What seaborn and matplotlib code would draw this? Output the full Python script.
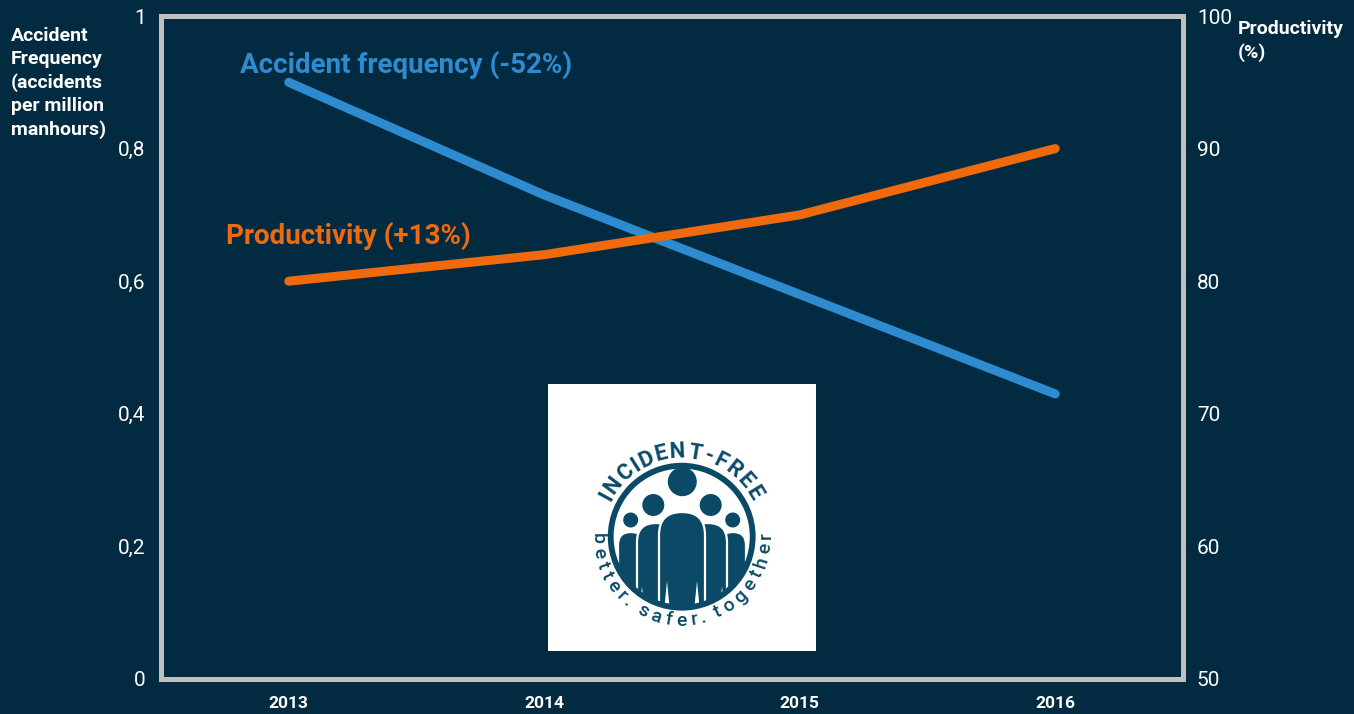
import numpy as np
import pandas as pd
import matplotlib
matplotlib.use("Agg")
import matplotlib.pyplot as plt
import seaborn as sns
from matplotlib.patches import Circle, FancyBboxPatch, Polygon
from matplotlib.textpath import TextPath
from matplotlib.font_manager import FontProperties

# ---------------- data ----------------
years = ["2013", "2014", "2015", "2016"]
accident_freq = [0.90, 0.73, 0.58, 0.43]
productivity = [80, 82, 85, 90]
left_ticks = [0, 0.2, 0.4, 0.6, 0.8, 1.0]
left_tick_labels = ["0", "0,2", "0,4", "0,6", "0,8", "1"]
right_ticks = [50, 60, 70, 80, 90, 100]
right_tick_labels = ["50", "60", "70", "80", "90", "100"]

BG = "#022b41"
BLUE = "#2e8bd0"
ORANGE = "#ee6a0c"
FRAME = "#c0c0c0"
LOGO = "#0b4a66"

sns.set_theme(style="white")
plt.rcParams["font.family"] = ["Roboto", "DejaVu Sans"]

df = pd.DataFrame({"pos": np.arange(len(years)), "year": years,
                   "acc": accident_freq, "prod": productivity})

fig = plt.figure(figsize=(13.54, 7.14), dpi=100, facecolor=BG)
ax = fig.add_axes([161/1354, 1-679/714, (1183-161)/1354, (679-16)/714])
ax.set_facecolor(BG)
ax2 = ax.twinx()

sns.lineplot(data=df, x="pos", y="acc", ax=ax, color=BLUE, lw=6.5,
             solid_capstyle="round", legend=False)
sns.lineplot(data=df, x="pos", y="prod", ax=ax2, color=ORANGE, lw=6.5,
             solid_capstyle="round", legend=False)

ax.set_xlim(-0.5, len(years) - 0.5)
ax.set_ylim(0, 1)
ax2.set_ylim(50, 100)

ax.set_xticks(df["pos"])
ax.set_xticklabels(years, fontsize=12.5, fontweight="bold", color="white")
ax.set_xticks(np.arange(-0.5, len(years), 1.0), minor=True)
ax.tick_params(axis="x", which="major", length=0, pad=12)
ax.tick_params(axis="x", which="minor", length=5, width=1.2, color=FRAME, direction="out")
ax.set_yticks(left_ticks)
ax.set_yticklabels(left_tick_labels, fontsize=15, color="white")
ax.tick_params(axis="y", length=0, pad=11)
ax2.set_yticks(right_ticks)
ax2.set_yticklabels(right_tick_labels, fontsize=15, color="white")
ax2.tick_params(axis="y", length=0, pad=10)
ax.set_xlabel("")
ax.set_ylabel("")
ax2.set_ylabel("")

for a in (ax, ax2):
    for s in a.spines.values():
        s.set_color(FRAME)
        s.set_linewidth(3.6)
    a.grid(False)

ax.text(-0.19, 0.926, "Accident frequency (-52%)", color=BLUE, fontsize=20,
        fontweight="bold", ha="left", va="center")
ax.text(-0.245, 0.668, "Productivity (+13%)", color=ORANGE, fontsize=20,
        fontweight="bold", ha="left", va="center")

fig.text(11/1354, 1-27/714, "Accident\nFrequency\n(accidents\nper million\nmanhours)",
         color="white", fontsize=14, fontweight="bold", ha="left", va="top", linespacing=1.36)
fig.text(1238/1354, 1-20/714, "Productivity\n(%)", color="white", fontsize=14,
         fontweight="bold", ha="left", va="top", linespacing=1.36)

# ---------------- logo ----------------
lax = fig.add_axes([548/1354, 1-651/714, 268/1354, 267/714])
lax.set_xlim(0, 268)
lax.set_ylim(0, 267)
lax.set_facecolor("white")
for s in lax.spines.values():
    s.set_visible(False)
lax.set_xticks([])
lax.set_yticks([])

cx, cy, R = 133.7, 114.3, 71
clip = Circle((cx, cy), R - 2, transform=lax.transData)

bodies = [(70, 96, 119), (172, 198, 119), (89, 127, 128), (141, 179, 128), (111, 157, 139)]
for x0, x1, top in bodies:
    w = x1 - x0
    p = FancyBboxPatch((x0, -40), w, top + 40, boxstyle=f"round,pad=0,rounding_size={w/2}",
                       fc=LOGO, ec="white", lw=1.6)
    lax.add_patch(p)
    p.set_clip_path(clip)
for gx, gh in [(94, 24), (119, 30), (149, 30), (174, 24)]:
    tri = Polygon([(gx - 3, 40), (gx + 3, 40), (gx, 40 + gh)], closed=True, fc="white", ec="none")
    lax.add_patch(tri)
    tri.set_clip_path(clip)
for hx, hy, hr in [(134.3, 169.3, 14.5), (105.3, 146, 11), (162.7, 146, 11),
                   (82.7, 131, 7.5), (184.7, 131, 7.5)]:
    lax.add_patch(Circle((hx, hy), hr, fc=LOGO, ec="none"))
lax.add_patch(Circle((cx, cy), R, fc="none", ec=LOGO, lw=4.2))


def arc_text(txt, r, a_start, a_end, size, weight, top):
    prop = FontProperties(family="Roboto", weight=weight, size=size)
    widths = []
    for ch in txt:
        if ch == " ":
            widths.append(size * 0.3)
        else:
            widths.append(TextPath((0, 0), ch, prop=prop).get_extents().width + size * 0.18)
    widths = np.array(widths)
    centers = np.cumsum(widths) - widths / 2
    frac = centers / widths.sum()
    angs = a_start + (a_end - a_start) * frac
    for ch, a in zip(txt, angs):
        rot = a - 90 if top else a + 90
        lax.text(cx + r*np.cos(np.radians(a)), cy + r*np.sin(np.radians(a)), ch,
                 rotation=rot, ha="center", va="center", fontsize=size, fontweight=weight,
                 color=LOGO, rotation_mode="anchor")


arc_text("INCIDENT-FREE", 85, 154, 26, 16, "bold", True)
arc_text("better. safer. together", 84, 176, 364, 14, "medium", False)

fig.savefig("out.png", dpi=100, facecolor=BG)
